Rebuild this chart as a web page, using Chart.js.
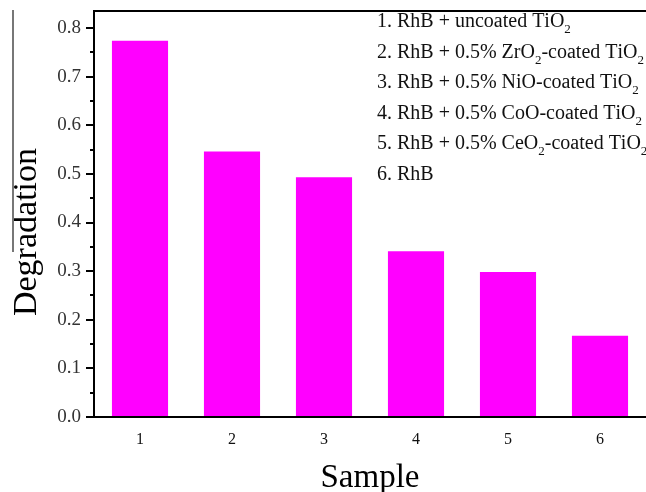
<!DOCTYPE html>
<html>
<head>
<meta charset="utf-8">
<script src="https://cdn.jsdelivr.net/npm/chart.js@4"></script>
<style>
  html, body { margin: 0; padding: 0; background: #fff; overflow: hidden; }
  #wrap { width: 646px; height: 492px; position: relative; }
</style>
</head>
<body>
<div id="wrap"><canvas id="chart" width="646" height="492"></canvas></div>
<script>
// data
const samples = ['1', '2', '3', '4', '5', '6'];
const degradation = [0.774, 0.546, 0.493, 0.341, 0.298, 0.167];
// "_" marks the next character as a subscript
const sampleNames = [
    '1. RhB + uncoated TiO_2',
    '2. RhB + 0.5% ZrO_2-coated TiO_2',
    '3. RhB + 0.5% NiO-coated TiO_2',
    '4. RhB + 0.5% CoO-coated TiO_2',
    '5. RhB + 0.5% CeO_2-coated TiO_2',
    '6. RhB'
];
const yTitle = 'Degradation';
const xTitle = 'Sample';

const serif = "'Liberation Serif', 'Times New Roman', serif";

// draws minor ticks, the top frame line, the y title with its overline and the sample list
const extras = {
    id: 'extras',
    afterDraw(chart) {
        const ctx = chart.ctx;
        const area = chart.chartArea;
        const y = chart.scales.y;
        ctx.save();

        // top frame line
        ctx.strokeStyle = '#000';
        ctx.lineWidth = 2;
        ctx.beginPath();
        ctx.moveTo(area.left - 1, area.top);
        ctx.lineTo(area.right + 2, area.top);
        ctx.stroke();

        // minor ticks half way between the major ones
        ctx.lineWidth = 2;
        for (let i = 0; i < y.ticks.length - 1; i++) {
            const mid = (y.ticks[i].value + y.ticks[i + 1].value) / 2;
            const py = Math.round(y.getPixelForValue(mid));
            ctx.beginPath();
            ctx.moveTo(area.left - 4, py);
            ctx.lineTo(area.left, py);
            ctx.stroke();
        }

        // y title
        ctx.fillStyle = '#000';
        ctx.font = '34px ' + serif;
        ctx.textAlign = 'center';
        ctx.textBaseline = 'middle';
        ctx.translate(27, 232);
        ctx.rotate(-Math.PI / 2);
        ctx.fillText(yTitle, 0, 0);
        ctx.setTransform(1, 0, 0, 1, 0, 0);

        // overline of the y title
        ctx.strokeStyle = '#777';
        ctx.lineWidth = 2;
        ctx.beginPath();
        ctx.moveTo(13, 10);
        ctx.lineTo(13, 252);
        ctx.stroke();

        // list of samples
        ctx.textAlign = 'left';
        ctx.textBaseline = 'alphabetic';
        ctx.fillStyle = '#111';
        sampleNames.forEach((name, i) => {
            let x = 377;
            const base = 27 + i * 30.6;
            for (let k = 0; k < name.length; k++) {
                let ch = name[k];
                if (ch === '_') {
                    ch = name[++k];
                    ctx.font = '13px ' + serif;
                    ctx.fillText(ch, x, base + 6);
                    x += ctx.measureText(ch).width;
                } else {
                    ctx.font = '20px ' + serif;
                    ctx.fillText(ch, x, base);
                    x += ctx.measureText(ch).width;
                }
            }
        });
        ctx.restore();
    }
};

new Chart(document.getElementById('chart'), {
    type: 'bar',
    data: {
        labels: samples,
        datasets: [{
            data: degradation,
            backgroundColor: '#FF00FF',
            borderWidth: 0,
            categoryPercentage: 1,
            barPercentage: 0.61
        }]
    },
    options: {
        responsive: false,
        animation: false,
        layout: { padding: { top: 11, left: 0, right: 0, bottom: 0 } },
        plugins: { legend: { display: false }, tooltip: { enabled: false } },
        scales: {
            x: {
                offset: true,
                grid: { display: false, drawTicks: false },
                border: { display: true, color: '#000', width: 2 },
                ticks: { color: '#111', padding: 13, font: { family: serif, size: 16 } },
                title: {
                    display: true, text: xTitle, color: '#000',
                    font: { family: serif, size: 33, lineHeight: 0.85 }, padding: 0
                },
                afterFit(scale) { scale.height = 75; }
            },
            y: {
                min: 0,
                max: 0.835,
                grid: { drawOnChartArea: false, drawTicks: true, tickLength: 8, color: '#000', lineWidth: 2 },
                border: { display: true, color: '#000', width: 2 },
                ticks: {
                    stepSize: 0.1,
                    includeBounds: false,
                    padding: 5,
                    color: '#333',
                    font: { family: serif, size: 19 },
                    callback: v => Number(v).toFixed(1)
                },
                afterFit(scale) {
                    scale.width = 94;
                    scale.paddingTop = 0;
                    scale.paddingBottom = 0;
                }
            }
        }
    },
    plugins: [extras]
});
</script>
</body>
</html>
